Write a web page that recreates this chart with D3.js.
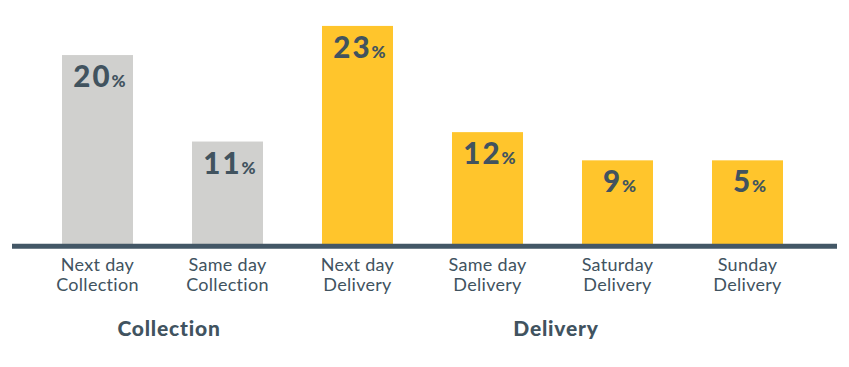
<!DOCTYPE html>
<html><head><meta charset="utf-8">
<script src="https://cdn.jsdelivr.net/npm/d3@7"></script>
<style>html,body{margin:0;padding:0;background:#fff;}svg{display:block;}</style>
</head><body>
<svg id="chart" width="849" height="367"></svg>
<script>
const categories = ["Next day|Collection","Same day|Collection","Next day|Delivery","Same day|Delivery","Saturday|Delivery","Sunday|Delivery"];
const groups = ["Collection","Collection","Delivery","Delivery","Delivery","Delivery"];
const barHeights = [20.1, 10.9, 23.2, 11.9, 8.9, 8.9];
const shares = ["20","11","23","12","9","5"];
const groupNames = ["Collection","Delivery"];

const svg = d3.select("#chart");
const baseY = 244;
const dark = "#41535f";
const colors = {Collection:"#d0d0ce", Delivery:"#ffc52c"};

const x = d3.scaleBand().domain(categories).range([32.5, 812.5]).paddingInner(0.4538).paddingOuter(0.2269);
const y = d3.scaleLinear().domain([0, 25]).range([baseY, baseY - 235]);

svg.selectAll("rect.bar").data(categories).join("rect")
  .attr("class","bar")
  .attr("x", d => x(d))
  .attr("width", x.bandwidth())
  .attr("y", (d,i) => y(barHeights[i]))
  .attr("height", (d,i) => y(0) - y(barHeights[i]))
  .attr("fill", (d,i) => colors[groups[i]]);

// value labels
const lab = svg.selectAll("text.val").data(categories).join("text")
  .attr("class","val")
  .attr("x", d => x(d) + x.bandwidth()/2 + 2)
  .attr("y", (d,i) => y(barHeights[i]) + 32)
  .attr("text-anchor","middle")
  .attr("fill", dark)
  .attr("font-family","Lato, 'Open Sans', sans-serif")
  .attr("font-weight", 900);
lab.append("tspan").attr("font-size", 29.5).attr("letter-spacing", 2).text((d,i) => shares[i]);
lab.append("tspan").attr("font-size", 17).attr("dx", 0).text("%");

// axis
const axis = d3.axisBottom(x).tickSize(0).tickPadding(0).tickFormat("");
const ag = svg.append("g").attr("transform", `translate(0,${baseY})`).call(axis);
ag.select(".domain").remove();
svg.append("line").attr("x1", 12).attr("x2", 837).attr("y1", baseY + 2.3).attr("y2", baseY + 2.3)
  .attr("stroke", "#435766").attr("stroke-width", 5);

ag.selectAll(".tick").each(function(d){
  const parts = d.split("|");
  const t = d3.select(this).append("text")
    .attr("fill", dark).attr("text-anchor","middle")
    .attr("font-family","Lato, sans-serif").attr("font-size", 18).attr("font-weight", 400)
    .attr("letter-spacing", 0.3);
  parts.forEach((p,i) => t.append("tspan").attr("x", 0).attr("y", 27 + i*20.3).text(p));
});

// group labels
groupNames.forEach(g => {
  const idx = groups.map((v,i)=>v===g?i:-1).filter(i=>i>=0);
  const c0 = x(categories[idx[0]]) + x.bandwidth()/2;
  const c1 = x(categories[idx[idx.length-1]]) + x.bandwidth()/2;
  svg.append("text").attr("x", (c0+c1)/2 + (g==="Collection"?6.5:3.5)).attr("y", 336)
    .attr("text-anchor","middle").attr("fill", dark)
    .attr("font-family","Lato, sans-serif").attr("font-weight", 900).attr("font-size", 21)
    .attr("letter-spacing", 0.8)
    .text(g);
});
</script>
</body></html>
